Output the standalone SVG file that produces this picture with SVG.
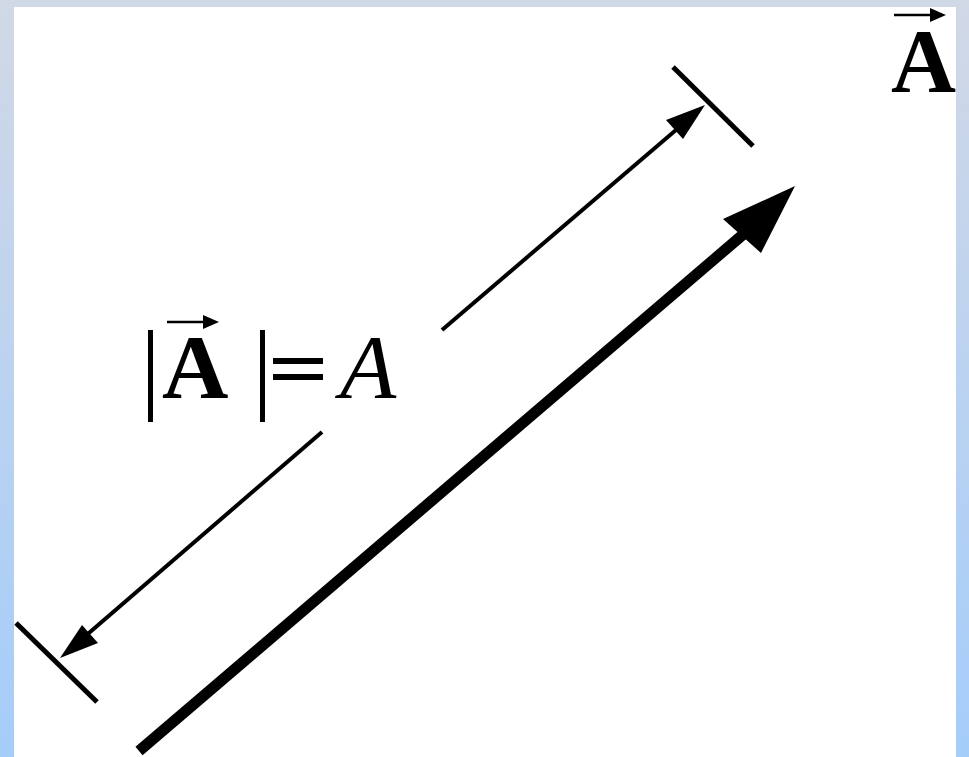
<svg xmlns="http://www.w3.org/2000/svg" width="969" height="757" viewBox="0 0 969 757">
<defs>
<linearGradient id="bg" x1="0" y1="0" x2="0" y2="1">
<stop offset="0" stop-color="#d1d8e6"/>
<stop offset="1" stop-color="#a5cdfa"/>
</linearGradient>
<style>
.ln{stroke:#000;stroke-linecap:butt;fill:none}
.hd{fill:#000}
.t{font-family:"Liberation Serif","Times New Roman",serif;fill:#000}
</style>
</defs>
<rect x="0" y="0" width="969" height="757" fill="url(#bg)"/>
<rect x="14" y="7" width="942" height="750" fill="#fff"/>
<g id="connectors">
<g id="main-vector">
<line class="ln" x1="139" y1="751" x2="746" y2="232" stroke-width="11"/>
<polygon class="hd" points="795,186 723,219 761,253"/>
</g>
<g id="dim-upper">
<line class="ln" x1="442" y1="330" x2="690" y2="118" stroke-width="4"/>
<polygon class="hd" points="705,105 666,120 683,139"/>
<line class="ln" x1="673" y1="67" x2="753" y2="146" stroke-width="5" stroke-linecap="round"/>
</g>
<g id="dim-lower">
<line class="ln" x1="322" y1="432" x2="75" y2="645" stroke-width="4"/>
<polygon class="hd" points="60,658 82,625 98,643"/>
<line class="ln" x1="16" y1="623" x2="97" y2="702" stroke-width="5" stroke-linecap="round"/>
</g>
</g>
<g id="magnitude-label">
<rect x="148" y="330" width="5" height="92" fill="#000"/>
<text class="t" x="162" y="398" font-size="92" font-weight="bold">A</text>
<line class="ln" x1="167" y1="322" x2="208" y2="322" stroke-width="2.5"/>
<polygon class="hd" points="203,315 219,322 203,329"/>
<rect x="260" y="330" width="5" height="92" fill="#000"/>
<rect x="273" y="358" width="50" height="6" fill="#000"/>
<rect x="273" y="374" width="50" height="6" fill="#000"/>
<text class="t" x="340" y="398" font-size="92" font-style="italic">A</text>
</g>
<g id="vector-label">
<text class="t" x="891" y="92" font-size="90" font-weight="bold">A</text>
<line class="ln" x1="894" y1="15" x2="935" y2="15" stroke-width="2.5"/>
<polygon class="hd" points="930,8 946,15 930,22"/>
</g>
</svg>
